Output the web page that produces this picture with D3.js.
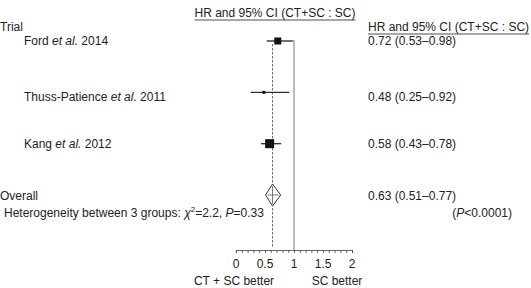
<!DOCTYPE html>
<html>
<head>
<meta charset="utf-8">
<script src="https://cdnjs.cloudflare.com/ajax/libs/d3/7.8.5/d3.min.js"></script>
<style>
  body { margin: 0; background: #fff; }
  svg { display: block; font-family: "Liberation Sans", Arial, sans-serif; }
  text { fill: #222; font-size: 12px; }
</style>
</head>
<body>
<div id="chart"></div>
<script>
// Trials and their hazard ratios
const trials = ["Ford", "Thuss-Patience", "Kang"];
const years = [2014, 2011, 2012];
const hr = [0.72, 0.48, 0.58];
const lower = [0.53, 0.25, 0.43];
const upper = [0.98, 0.92, 0.78];
const weights = [7, 3, 9];   // square side, px

const overall = {hr: 0.63, lo: 0.51, hi: 0.77};
const tickLabels = [0, 0.5, 1, 1.5, 2];

const width = 531, height = 288;

const svg = d3.select("#chart").append("svg")
    .attr("width", width)
    .attr("height", height);

// blur for the grey shadow under each CI line
svg.append("defs").append("filter")
    .attr("id", "shadow")
    .attr("x", "-20%").attr("y", "-300%")
    .attr("width", "140%").attr("height", "700%")
    .append("feGaussianBlur")
    .attr("stdDeviation", 1.3);

// Scales
const x = d3.scaleLinear().domain([0, 2]).range([236, 352]);
const y = d3.scalePoint().domain([0, 1, 2, 3]).range([41, 195]);
const axisY = 250;
const labelDy = [4, 9, 4];   // text baseline offset from the row line

// Top title
const title = svg.append("text")
    .attr("x", 275).attr("y", 17)
    .attr("text-anchor", "middle")
    .text("HR and 95% CI (CT+SC : SC)");
const tb = title.node().getBBox();
svg.append("line")
    .attr("x1", tb.x).attr("x2", tb.x + tb.width)
    .attr("y1", 20).attr("y2", 20)
    .attr("stroke", "#222").attr("stroke-width", 0.8);

svg.append("text").attr("x", 0).attr("y", 31).text("Trial");

const head = svg.append("text")
    .attr("x", 368).attr("y", 31)
    .text("HR and 95% CI (CT+SC : SC)");
const hb = head.node().getBBox();
svg.append("line")
    .attr("x1", hb.x).attr("x2", hb.x + hb.width)
    .attr("y1", 34).attr("y2", 34)
    .attr("stroke", "#222").attr("stroke-width", 0.8);

// Reference lines
svg.append("line")
    .attr("x1", x(1)).attr("x2", x(1))
    .attr("y1", y(0) - 1).attr("y2", axisY)
    .attr("stroke", "#777").attr("stroke-width", 1);

svg.append("line")
    .attr("x1", x(overall.hr)).attr("x2", x(overall.hr))
    .attr("y1", y(0) + 3).attr("y2", axisY - 2)
    .attr("stroke", "#444").attr("stroke-width", 0.8)
    .attr("stroke-dasharray", "2.5,1.5");

// Trial rows
const rows = svg.selectAll(".row")
    .data(trials)
    .join("g")
    .attr("class", "row");

rows.append("line")
    .attr("x1", (d, i) => x(lower[i]))
    .attr("x2", (d, i) => x(upper[i]))
    .attr("y1", (d, i) => y(i) + 4)
    .attr("y2", (d, i) => y(i) + 4)
    .attr("stroke", "#aaa").attr("stroke-width", 3)
    .attr("filter", "url(#shadow)");

rows.append("line")
    .attr("x1", (d, i) => x(lower[i]))
    .attr("x2", (d, i) => x(upper[i]))
    .attr("y1", (d, i) => y(i))
    .attr("y2", (d, i) => y(i))
    .attr("stroke", "#333").attr("stroke-width", 1.4);

rows.append("rect")
    .attr("x", (d, i) => x(hr[i]) - weights[i] / 2)
    .attr("y", (d, i) => y(i) - weights[i] / 2)
    .attr("width", (d, i) => weights[i])
    .attr("height", (d, i) => weights[i])
    .attr("fill", "#111");

const lab = rows.append("text")
    .attr("x", 24)
    .attr("y", (d, i) => y(i) + labelDy[i]);
lab.append("tspan").text(d => d + " ");
lab.append("tspan").attr("font-style", "italic").text("et al.");
lab.append("tspan").text((d, i) => " " + years[i]);

rows.append("text")
    .attr("x", 368)
    .attr("y", (d, i) => y(i) + labelDy[i])
    .text((d, i) => `${hr[i].toFixed(2)} (${lower[i].toFixed(2)}\u2013${upper[i].toFixed(2)})`);

// Overall diamond
const oy = y(3);
const dh = 11;
svg.append("path")
    .attr("d", `M${x(overall.lo)},${oy} L${x(overall.hr)},${oy - dh} L${x(overall.hi)},${oy} L${x(overall.hr)},${oy + dh} Z`)
    .attr("fill", "#fff").attr("stroke", "#333").attr("stroke-width", 1);
svg.append("line")
    .attr("x1", x(overall.lo) + 2).attr("x2", x(overall.hi) - 2)
    .attr("y1", oy).attr("y2", oy)
    .attr("stroke", "#555").attr("stroke-width", 0.8);
svg.append("line")
    .attr("x1", x(overall.hr)).attr("x2", x(overall.hr))
    .attr("y1", oy - dh + 2).attr("y2", oy + dh - 2)
    .attr("stroke", "#555").attr("stroke-width", 0.8);

svg.append("text").attr("x", 0).attr("y", oy + 5).text("Overall");
svg.append("text").attr("x", 368).attr("y", oy + 5)
    .text(`${overall.hr.toFixed(2)} (${overall.lo.toFixed(2)}\u2013${overall.hi.toFixed(2)})`);

const pv = svg.append("text").attr("x", 512).attr("y", 217).attr("text-anchor", "end");
pv.append("tspan").text("(");
pv.append("tspan").attr("font-style", "italic").text("P");
pv.append("tspan").text("<0.0001)");

const het = svg.append("text").attr("x", 4).attr("y", 217);
het.append("tspan").text("Heterogeneity between 3 groups: ");
het.append("tspan").attr("font-style", "italic").text("\u03c7");
het.append("tspan").attr("dy", -5).attr("font-size", "8px").text("2");
het.append("tspan").attr("dy", 5).text("=2.2, ");
het.append("tspan").attr("font-style", "italic").text("P");
het.append("tspan").text("=0.33");

// Axis
const axis = svg.append("g")
    .attr("transform", `translate(0,${axisY})`)
    .call(d3.axisBottom(x)
        .tickValues(d3.range(0, 2.001, 0.1))
        .tickSize(3)
        .tickFormat(""));
axis.select(".domain").attr("stroke", "#444").attr("stroke-width", 0.8);
axis.selectAll(".tick line").attr("stroke", "#444").attr("stroke-width", 0.8);

svg.selectAll(".tl")
    .data(tickLabels)
    .join("text")
    .attr("class", "tl")
    .attr("x", d => x(d))
    .attr("y", 268)
    .attr("text-anchor", "middle")
    .text(d => d);

svg.append("text").attr("x", 234).attr("y", 285).attr("text-anchor", "middle").text("CT + SC better");
svg.append("text").attr("x", 337).attr("y", 285).attr("text-anchor", "middle").text("SC better");
</script>
</body>
</html>
